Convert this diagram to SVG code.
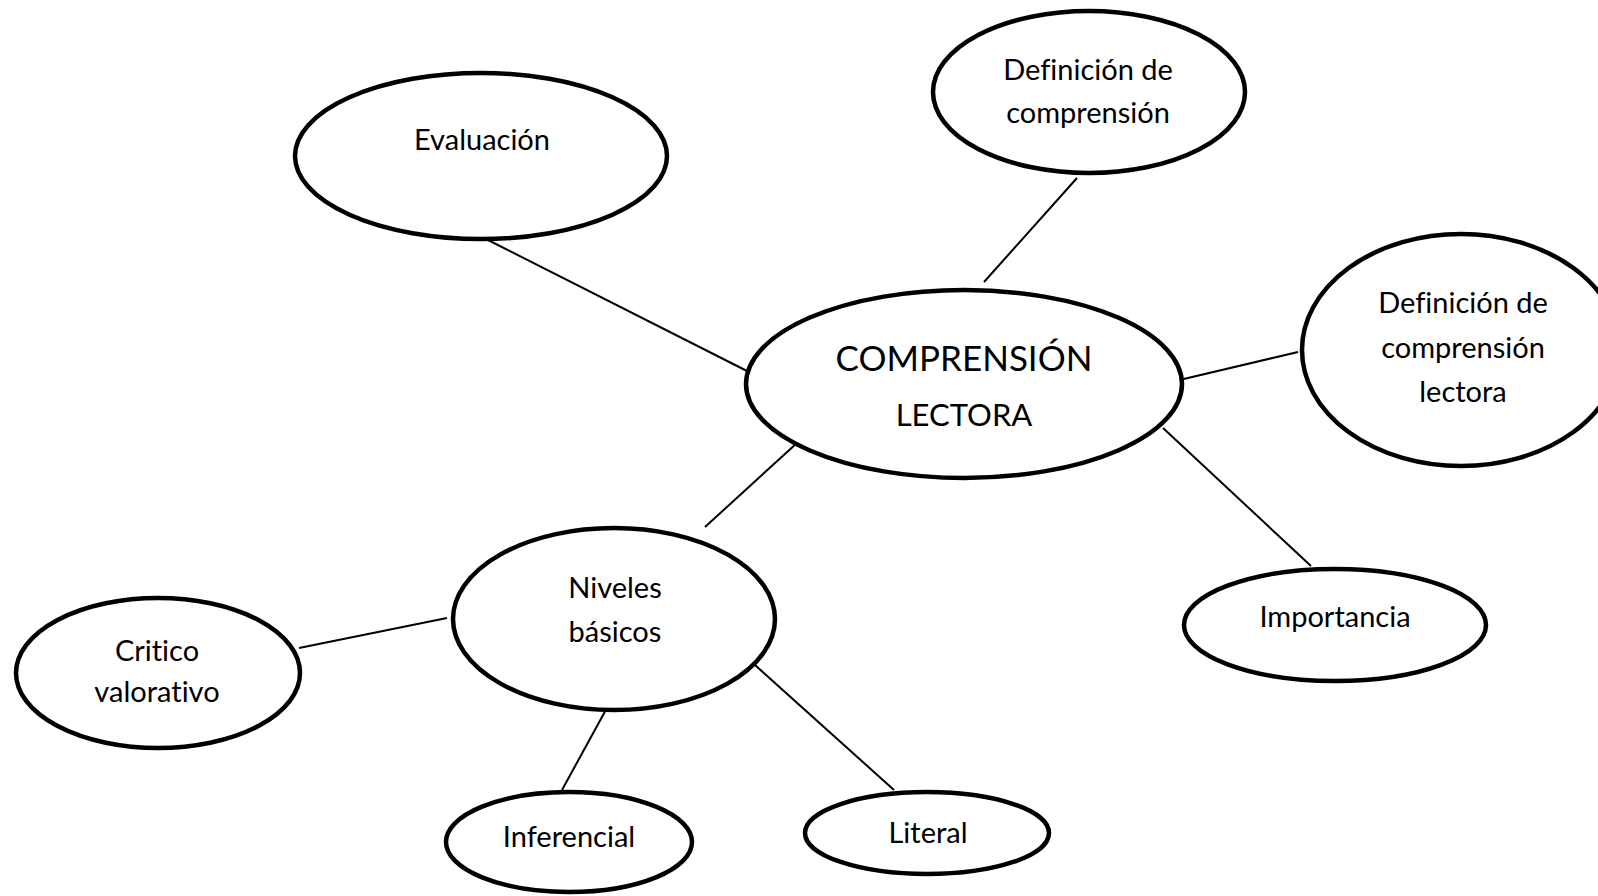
<svg xmlns="http://www.w3.org/2000/svg" width="1598" height="896" viewBox="0 0 1598 896">
<style>
.n{fill:#fff;stroke:#000;stroke-width:4.5}
.t{font-family:Lato,"Open Sans","Liberation Sans",sans-serif;font-size:29px;fill:#000;text-anchor:middle;font-variant-ligatures:none;font-feature-settings:"liga" 0}
.big{font-size:35px}
.mid{font-size:31px}
#connectors line{stroke:#000;stroke-width:2}
</style>
<rect width="1598" height="896" fill="#fff"/>
<g id="connectors">
<line x1="488" y1="240" x2="747" y2="371"/>
<line x1="1077" y1="178" x2="984" y2="282"/>
<line x1="1171" y1="382" x2="1298" y2="352"/>
<line x1="1163" y1="428" x2="1311" y2="566"/>
<line x1="797" y1="443" x2="705" y2="527"/>
<line x1="447" y1="618" x2="299" y2="648"/>
<line x1="608" y1="706" x2="562" y2="790"/>
<line x1="755" y1="665" x2="894" y2="790"/>
</g>
<g id="center">
<ellipse class="n" cx="964" cy="384" rx="218" ry="94"/>
<text class="t big" x="964" y="371">COMPRENSIÓN</text>
<text class="t mid" x="964" y="426">LECTORA</text>
</g>
<g id="evaluacion">
<ellipse class="n" cx="481" cy="156" rx="186" ry="83"/>
<text class="t" x="482" y="150">Evaluación</text>
</g>
<g id="definicion">
<ellipse class="n" cx="1089" cy="92" rx="156" ry="81"/>
<text class="t" x="1088" y="80">Definición de</text>
<text class="t" x="1088" y="123">comprensión</text>
</g>
<g id="definicion-lectora">
<ellipse class="n" cx="1461" cy="350" rx="159" ry="116"/>
<text class="t" x="1463" y="313">Definición de</text>
<text class="t" x="1463" y="358">comprensión</text>
<text class="t" x="1463" y="402">lectora</text>
</g>
<g id="importancia">
<ellipse class="n" cx="1335" cy="625" rx="151" ry="56"/>
<text class="t" x="1335" y="627">Importancia</text>
</g>
<g id="niveles">
<ellipse class="n" cx="614" cy="619" rx="161" ry="91"/>
<text class="t" x="615" y="598">Niveles</text>
<text class="t" x="615" y="642">básicos</text>
</g>
<g id="critico">
<ellipse class="n" cx="158" cy="673" rx="142" ry="75"/>
<text class="t" x="157" y="661">Critico</text>
<text class="t" x="157" y="702">valorativo</text>
</g>
<g id="inferencial">
<ellipse class="n" cx="569" cy="842" rx="123" ry="50"/>
<text class="t" x="569" y="847">Inferencial</text>
</g>
<g id="literal">
<ellipse class="n" cx="927" cy="833" rx="122" ry="41"/>
<text class="t" x="928" y="843">Literal</text>
</g>
</svg>
